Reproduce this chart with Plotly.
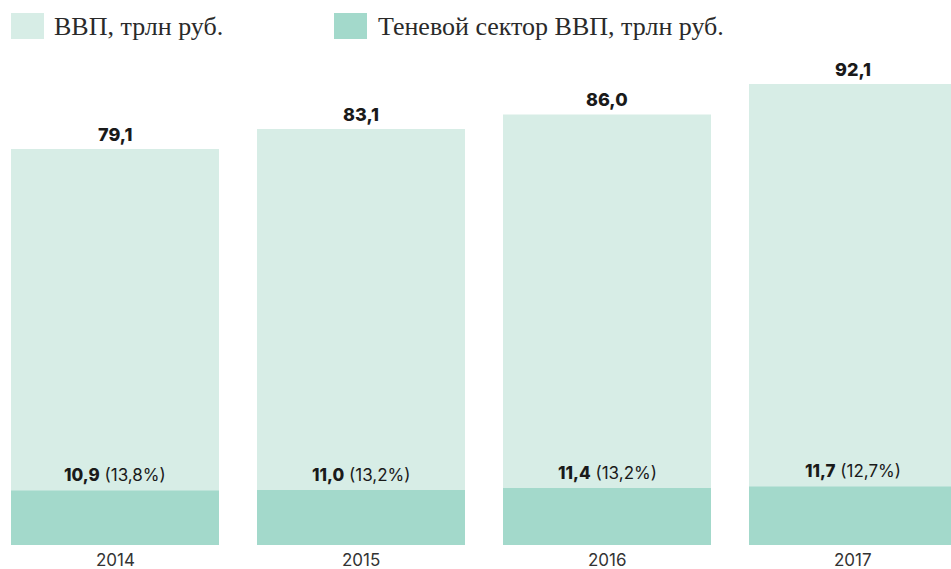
import plotly.graph_objects as go

years = ["2014", "2015", "2016", "2017"]
gdp = [79.1, 83.1, 86.0, 92.1]
shadow = [10.9, 11.0, 11.4, 11.7]
share = [13.8, 13.2, 13.2, 12.7]
legend_names = ["ВВП, трлн руб.", "Теневой сектор ВВП, трлн руб."]

LIGHT = "#d7ede6"
TEAL = "#a3d9cb"
W, H = 951, 569
T, B = 60, 24
plot_h = H - T - B
scale = 396 / 79.1
ymax = plot_h / scale

xs = list(range(len(years)))
px_per = 246
x0 = -115 / px_per
x1 = (W - 115) / px_per
bw = 208 / px_per

SANS = "Inter, Roboto, sans-serif"

def fmt(v):
    return f"{v:.1f}".replace(".", ",")

def heavy(s):
    return f'<span style="font-weight:800">{s}</span>'

fig = go.Figure()
fig.add_trace(go.Bar(x=xs, y=gdp, width=bw, marker=dict(color=LIGHT, line=dict(width=0)),
                     name=legend_names[0], hoverinfo="skip"))
fig.add_trace(go.Bar(x=xs, y=shadow, width=bw, marker=dict(color=TEAL, line=dict(width=0)),
                     name=legend_names[1], hoverinfo="skip"))

ann = []
for i, x in enumerate(xs):
    ann.append(dict(x=x, y=gdp[i], text=heavy(fmt(gdp[i])), showarrow=False,
                    yanchor="bottom", yshift=2,
                    font=dict(family=SANS, size=18, color="#1a1a1a")))
    ann.append(dict(x=x, y=shadow[i],
                    text=f"{heavy(fmt(shadow[i]))} ({fmt(share[i])}%)", showarrow=False,
                    yanchor="bottom", yshift=3,
                    font=dict(family=SANS, size=17, color="#1a1a1a")))
    ann.append(dict(x=x, y=0, text=years[i], showarrow=False, yanchor="top", yshift=-3,
                    font=dict(family=SANS, size=17, color="#333333")))

def py(p):
    return (H - B - p) / plot_h

shapes = []
for (a, b), col in [((11, 44), LIGHT), ((334, 367), TEAL)]:
    shapes.append(dict(type="rect", xref="paper", yref="paper", x0=a / W, x1=b / W,
                       y0=py(39), y1=py(13), fillcolor=col, line=dict(width=0)))
for xpix, txt in [(52, legend_names[0]), (376, legend_names[1])]:
    ann.append(dict(x=xpix / W, y=py(26), xref="paper", yref="paper", text=txt,
                    showarrow=False, xanchor="left", yanchor="middle",
                    font=dict(family="Liberation Serif, serif", size=26, color="#2a2a2a")))

fig.update_layout(
    width=W, height=H, barmode="overlay", showlegend=False,
    margin=dict(l=0, r=0, t=T, b=B),
    paper_bgcolor="white", plot_bgcolor="white",
    xaxis=dict(range=[x0, x1], visible=False, fixedrange=True),
    yaxis=dict(range=[0, ymax], visible=False, fixedrange=True),
    annotations=ann, shapes=shapes,
)
fig.write_html("out.html", config={"displayModeBar": False},
               post_script="document.body.style.margin='0';document.body.style.overflow='hidden';")
